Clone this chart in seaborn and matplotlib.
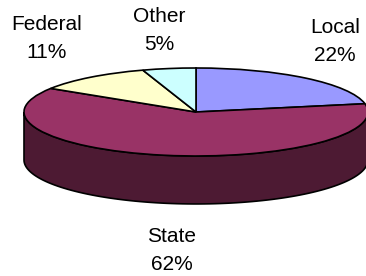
import numpy as np
import matplotlib
matplotlib.use("Agg")
import matplotlib.pyplot as plt
import seaborn as sns

# Budget shares (percent), clockwise from 12 o'clock
categories = ["Local", "State", "Federal", "Other"]
shares = [22, 62, 11, 5]
colors = ["#9999FF", "#993366", "#FFFFCC", "#CCFFFF"]
side_color = "#4D1A33"

# label centres in axes fraction (layout only)
label_pos = [(0.915, 0.85), (0.47, 0.093), (0.128, 0.86), (0.435, 0.89)]

sns.set_theme(style="white")
plt.rcParams["font.family"] = ["Liberation Sans", "DejaVu Sans"]

fig = plt.figure(figsize=(3.66, 2.76), dpi=100)
ax = fig.add_axes([0, 0, 1, 1])

# top face of the pie
ax.pie(shares, colors=colors, startangle=90, counterclock=False,
       radius=1, center=(0, 0),
       wedgeprops=dict(edgecolor="black", linewidth=1.2))

# side wall (front half), coloured by the slice it belongs to
depth = 1.09
fracs = np.cumsum([0] + shares) / sum(shares)
starts = 90 - 360 * fracs[:-1]
ends = 90 - 360 * fracs[1:]
for a0, a1, side in zip(starts, ends, colors):
    lo, hi = min(a0, a1), max(a0, a1)
    # map to front range [-180, 0]
    for shift in (0, -360, 360):
        l, h = max(lo + shift, -180), min(hi + shift, 0)
        if h > l:
            t = np.radians(np.linspace(l, h, 100))
            xs = np.cos(t)
            ys = np.sin(t)
            px = np.concatenate([xs, xs[::-1]])
            py = np.concatenate([ys, ys[::-1] - depth])
            c = side_color if side == "#993366" else side
            ax.fill(px, py, facecolor=c, edgecolor="black", linewidth=1.2, zorder=0)

ax.set_aspect("auto")
ax.set_xlim(-196 / 172, 170 / 172)
ax.set_ylim((112 - 276) / 44, 112 / 44)
ax.axis("off")

for name, val, (x, y) in zip(categories, shares, label_pos):
    ax.text(x, y, f"{name}\n{val}%", transform=ax.transAxes, ha="center",
            va="center", fontsize=15, linespacing=1.6, color="black")

fig.savefig("out.png", dpi=100, facecolor="white")
